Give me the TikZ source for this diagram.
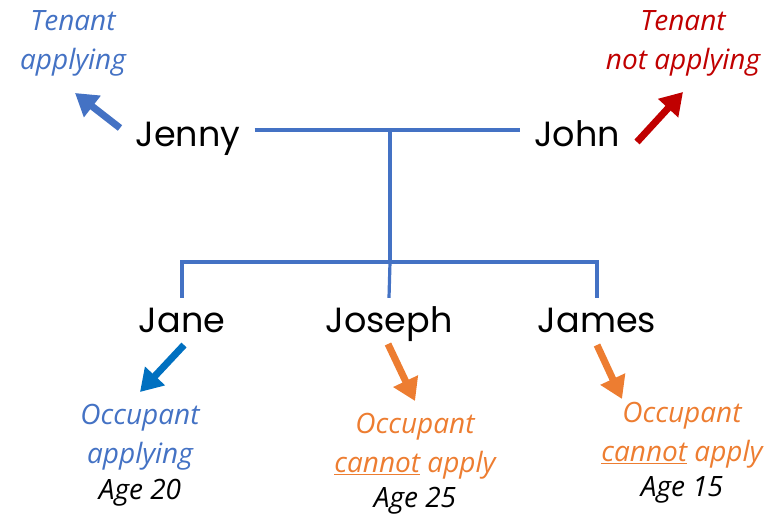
\documentclass[tikz,border=0pt]{standalone}
\usepackage{fontspec}
\setmainfont{Poppins}
\newfontfamily\handfont{Open Sans}
\usetikzlibrary{arrows.meta}

\definecolor{famblue}{HTML}{4472C4}
\definecolor{jaaneblue}{HTML}{0070C0}
\definecolor{notred}{HTML}{C00000}
\definecolor{occorange}{HTML}{ED7D31}

\begin{document}
\begin{tikzpicture}[x=1pt,y=-1pt,
    person/.style={anchor=base,font=\fontsize{35}{38}\selectfont,
        text height=26pt,text depth=8pt,inner ysep=8pt,inner xsep=14pt},
    note/.style={align=center,font=\handfont\itshape\fontsize{28}{39}\selectfont},
    link/.style={famblue,line width=3.2pt},
    pointer/.style={line width=7pt,-{Triangle[length=22pt,width=26pt]}}
    ]
    \useasboundingbox (0,0) rectangle (770,518);

    %PARENTS
    \node[person] (jenny) at (188,147) {Jenny};
    \node[person] (john) at (577,147) {John};
    %CHILDREN
    \node[person] (jane) at (182,332) {Jane};
    \node[person] (joseph) at (389,332) {Joseph};
    \node[person] (james) at (597,332) {James};

    %TREE
    \coordinate (couple) at (390,130);
    \coordinate (fork) at (390,262);
    \draw[link] (jenny.east |- couple) -- (john.west |- couple);
    \draw[link] (couple) -- (fork);
    \draw[link] (jane.north) -- (jane.north |- fork) -- (james.north |- fork) -- (james.north);
    \draw[link] (fork) -- (joseph.north);

    %NOTES
    \node[note,famblue] (jennynote) at (73,43) {Tenant\\applying};
    \node[note,notred] (johnnote) at (683,43) {Tenant\\not applying};
    \node[note,famblue] (janenote) at (140,437) {Occupant\\applying};
    \node[note,occorange] (josephnote) at (415,446) {Occupant\\\underline{cannot} apply};
    \node[note,occorange] (jamesnote) at (682,435) {Occupant\\\underline{cannot} apply};
    \node[note] (janeage) at (140,493) {Age 20};
    \node[note] (josephage) at (415,501) {Age 25};
    \node[note] (jamesage) at (682,490) {Age 15};

    %POINTERS
    \coordinate (jennytip) at (75,93);   \coordinate (jennytail) at (120,128);
    \coordinate (johntip) at (683,92);   \coordinate (johntail) at (637,142);
    \coordinate (janetip) at (140,392);  \coordinate (janetail) at (184,345);
    \coordinate (josephtip) at (415,401); \coordinate (josephtail) at (388,344);
    \coordinate (jamestip) at (622,399); \coordinate (jamestail) at (597,345);
    \draw[pointer,famblue] (jennytail) -- (jennytip);
    \draw[pointer,notred] (johntail) -- (johntip);
    \draw[pointer,jaaneblue] (janetail) -- (janetip);
    \draw[pointer,occorange] (josephtail) -- (josephtip);
    \draw[pointer,occorange] (jamestail) -- (jamestip);
\end{tikzpicture}
\end{document}
